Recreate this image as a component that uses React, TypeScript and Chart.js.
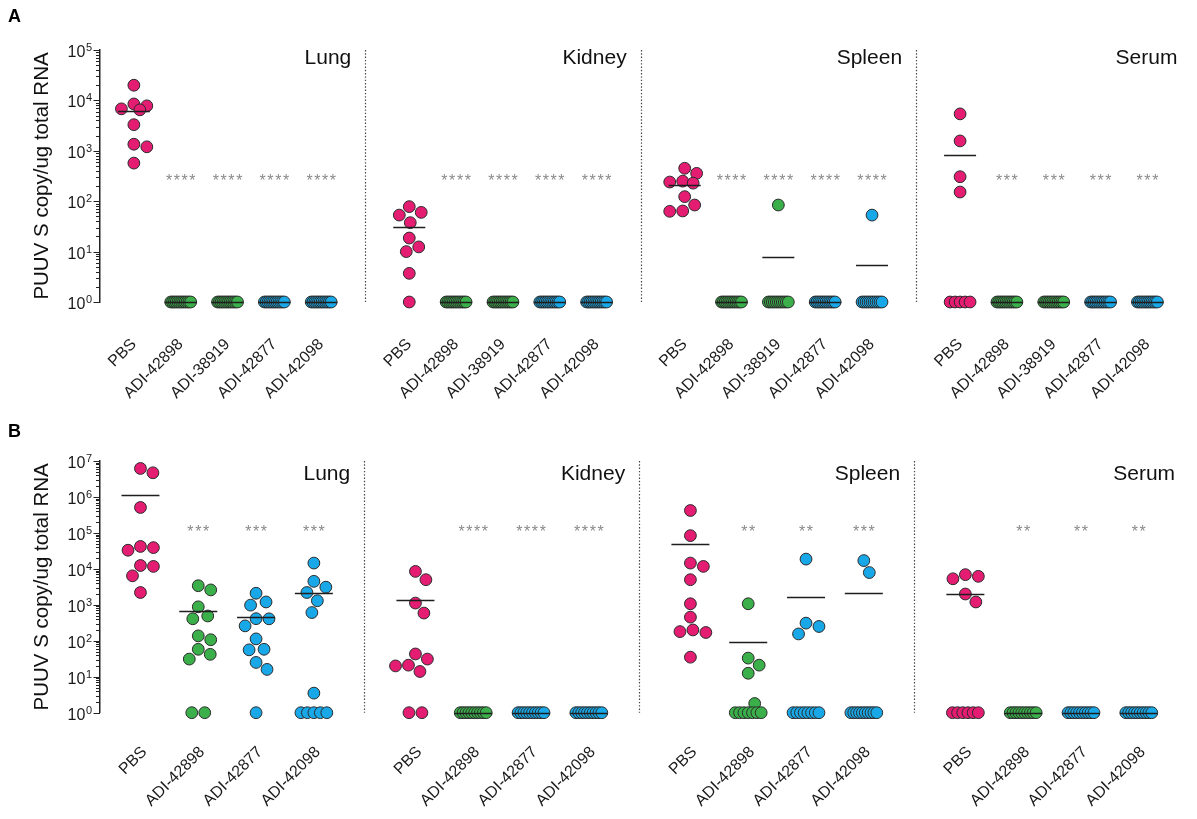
import React, { useEffect, useRef } from "react";
import { Chart, registerables } from "chart.js";
Chart.register(...registerables);

const FONT = "'Liberation Sans', Arial, Helvetica, sans-serif";

// ---------- data ----------
const ORGANS = ["Lung", "Kidney", "Spleen", "Serum"];
const GROUPS_A = ["PBS", "ADI-42898", "ADI-38919", "ADI-42877", "ADI-42098"];
const GROUPS_B = ["PBS", "ADI-42898", "ADI-42877", "ADI-42098"];

const A_LUNG = [
  [20000, 8500, 7800, 6800, 6500, 3300, 1350, 1200, 570],
  [1, 1, 1, 1, 1, 1, 1, 1, 1, 1, 1, 1],
  [1, 1, 1, 1, 1, 1, 1, 1, 1, 1, 1, 1],
  [1, 1, 1, 1, 1, 1, 1, 1, 1, 1, 1, 1],
  [1, 1, 1, 1, 1, 1, 1, 1, 1, 1, 1, 1],
];
const A_KIDNEY = [
  [78, 60, 53, 37.5, 18.6, 12.4, 10, 3.7, 1],
  [1, 1, 1, 1, 1, 1, 1, 1, 1, 1, 1, 1],
  [1, 1, 1, 1, 1, 1, 1, 1, 1, 1, 1, 1],
  [1, 1, 1, 1, 1, 1, 1, 1, 1, 1, 1, 1],
  [1, 1, 1, 1, 1, 1, 1, 1, 1, 1, 1, 1],
];
const A_SPLEEN = [
  [450, 357, 250, 240, 228, 123, 84, 64, 63],
  [1, 1, 1, 1, 1, 1, 1, 1, 1, 1, 1, 1],
  [84, 1, 1, 1, 1, 1, 1, 1, 1, 1, 1, 1],
  [1, 1, 1, 1, 1, 1, 1, 1, 1, 1, 1, 1],
  [53, 1, 1, 1, 1, 1, 1, 1, 1, 1, 1, 1],
];
const A_SERUM = [
  [5400, 1570, 306, 152, 1, 1, 1, 1, 1],
  [1, 1, 1, 1, 1, 1, 1, 1, 1, 1, 1, 1],
  [1, 1, 1, 1, 1, 1, 1, 1, 1, 1, 1, 1],
  [1, 1, 1, 1, 1, 1, 1, 1, 1, 1, 1, 1],
  [1, 1, 1, 1, 1, 1, 1, 1, 1, 1, 1, 1],
];
const STARS_A = [
  ["****", "****", "****", "****"],
  ["****", "****", "****", "****"],
  ["****", "****", "****", "****"],
  ["***", "***", "***", "***"],
];

const B_LUNG = [
  [6200000, 4700000, 510000, 42000, 39000, 33000, 12400, 11700, 6400, 2200],
  [3400, 2600, 880, 490, 410, 137, 107, 58, 42, 31, 1, 1],
  [2100, 1200, 980, 412, 408, 260, 113, 58, 56, 25, 16, 1],
  [14500, 4500, 3100, 2200, 1300, 610, 3.5, 1, 1, 1, 1, 1],
];
const B_KIDNEY = [
  [8500, 5000, 1120, 590, 43, 31, 21, 20, 14, 1, 1],
  [1, 1, 1, 1, 1, 1, 1, 1, 1, 1],
  [1, 1, 1, 1, 1, 1, 1, 1, 1, 1],
  [1, 1, 1, 1, 1, 1, 1, 1, 1, 1],
];
const B_SPLEEN = [
  [420000, 84000, 14500, 11700, 5000, 1070, 455, 200, 180, 170, 35],
  [1070, 33, 21, 12.5, 1.8, 1, 1, 1, 1, 1, 1, 1],
  [18700, 310, 250, 155, 1, 1, 1, 1, 1, 1, 1, 1],
  [17000, 7900, 1, 1, 1, 1, 1, 1, 1, 1, 1, 1],
];
const B_SERUM = [
  [6900, 6200, 5300, 2000, 1200, 1, 1, 1, 1, 1, 1],
  [1, 1, 1, 1, 1, 1, 1, 1, 1, 1],
  [1, 1, 1, 1, 1, 1, 1, 1, 1, 1],
  [1, 1, 1, 1, 1, 1, 1, 1, 1, 1],
];
const STARS_B = [
  ["***", "***", "***"],
  ["****", "****", "****"],
  ["**", "**", "***"],
  ["**", "**", "**"],
];

const Y_TITLE = "PUUV S copy/ug total RNA";

// ---------- styles ----------
const COLORS: Record<string, string> = {
  "PBS": "#E41C72",
  "ADI-42898": "#3BAF4A",
  "ADI-38919": "#3BAF4A",
  "ADI-42877": "#18A8E8",
  "ADI-42098": "#18A8E8",
};
const DIAM = 13;

function swarm(vals: number[], pxd: number, pill: number): number[] {
  const n = vals.length;
  const ys = vals.map((v) => -Math.log10(v) * pxd);
  const off: number[] = new Array(n).fill(NaN);
  const placed: number[] = [];
  const groups = new Map<number, number[]>();
  vals.forEach((v, i) => {
    const a = groups.get(v) || [];
    a.push(i);
    groups.set(v, a);
  });
  groups.forEach((idx) => {
    if (idx.length < 2) return;
    const k = idx.length;
    const step = Math.min(DIAM, pill / (k - 1));
    idx.forEach((i, j) => {
      off[i] = (j - (k - 1) / 2) * step;
      placed.push(i);
    });
  });
  const order = vals
    .map((_, i) => i)
    .filter((i) => isNaN(off[i]))
    .sort((a, b) => vals[b] - vals[a]);
  for (const i of order) {
    let best = 0;
    let bestScore = -1;
    let found = false;
    for (let s = 0; s <= 20 && !found; s += 0.5) {
      const cands = s === 0 ? [0] : [s, -s];
      for (const dx of cands) {
        let md = Infinity;
        for (const j of placed) md = Math.min(md, Math.hypot(dx - off[j], ys[i] - ys[j]));
        if (md >= DIAM) {
          best = dx;
          found = true;
          break;
        }
        if (md > bestScore && Math.abs(dx) <= pill / 2) {
          bestScore = md;
          best = dx;
        }
      }
    }
    off[i] = best;
    placed.push(i);
  }
  return off;
}

type RowSpec = {
  letter: string;
  panels: number[][][];
  groups: string[];
  stars: string[][];
  yMaxExp: number;
  step: number;
  div: number;
  xmin: number;
  xmax: number;
  pxu: number;
  pxd: number;
  top: number;
  xAxisH: number;
  height: number;
  meanW: number;
  pill: number;
  starY: number;
  titleDy: number;
  letterY: number;
  labelPad: number;
  labelOffset: number;
};

const ROW_A: RowSpec = {
  letter: "A",
  panels: [A_LUNG, A_KIDNEY, A_SPLEEN, A_SERUM],
  groups: GROUPS_A,
  stars: STARS_A,
  yMaxExp: 5,
  step: 5.88,
  div: 4.94,
  xmin: -0.723,
  xmax: 22.38,
  pxu: 47,
  pxd: 50.4,
  top: 42,
  xAxisH: 106,
  height: 400,
  meanW: 32,
  pill: 20,
  starY: 306,
  titleDy: 14,
  letterY: 14,
  labelPad: 33,
  labelOffset: 0,
};
const ROW_B: RowSpec = {
  letter: "B",
  panels: [B_LUNG, B_KIDNEY, B_SPLEEN, B_SERUM],
  groups: GROUPS_B,
  stars: STARS_B,
  yMaxExp: 7,
  step: 4.757,
  div: 3.87,
  xmin: -0.7,
  xmax: 18.02,
  pxu: 58,
  pxd: 35.96,
  top: 53,
  xAxisH: 98.3,
  height: 403,
  meanW: 38,
  pill: 26,
  starY: 133000,
  titleDy: 19,
  letterY: 29,
  labelPad: 30,
  labelOffset: 4,
};

function buildConfig(spec: RowSpec): any {
  const datasets: any[] = [];
  const tickPos: number[] = [];
  const tickLabels: string[] = [];
  const means: { x: number; y: number }[] = [];
  spec.panels.forEach((panel, p) => {
    panel.forEach((vals, g) => {
      const cx = p * spec.step + g;
      tickPos.push(cx);
      tickLabels.push(spec.groups[g]);
      const offs = swarm(vals, spec.pxd, spec.pill);
      const color = COLORS[spec.groups[g]];
      means.push({ x: cx, y: vals.reduce((a, b) => a + b, 0) / vals.length });
      datasets.push({
        type: "scatter",
        data: vals.map((v, i) => ({ x: cx + offs[i] / spec.pxu, y: v })),
        backgroundColor: color,
        borderColor: "#2b2b2b",
        borderWidth: 1,
        pointRadius: 5.9,
        pointHoverRadius: 5.9,
        clip: false,
      });
    });
  });

  const overlay = {
    id: "overlay" + spec.letter,
    afterDatasetsDraw(chart: any) {
      const { ctx, chartArea } = chart;
      const xs = chart.scales.x;
      const ys = chart.scales.y;
      ctx.save();
      // mean lines
      ctx.strokeStyle = "#1e1e1e";
      ctx.lineWidth = 1.6;
      means.forEach((m) => {
        const px = xs.getPixelForValue(m.x);
        const py = Math.round(ys.getPixelForValue(m.y)) + 0.5;
        ctx.beginPath();
        ctx.moveTo(px - spec.meanW / 2, py);
        ctx.lineTo(px + spec.meanW / 2, py);
        ctx.stroke();
      });
      // stars
      ctx.fillStyle = "#8a8a8a";
      ctx.font = `16px ${FONT}`;
      ctx.textAlign = "center";
      ctx.textBaseline = "alphabetic";
      spec.stars.forEach((row, p) => {
        row.forEach((s, k) => {
          const cx = xs.getPixelForValue(p * spec.step + k + 1);
          const cy = ys.getPixelForValue(spec.starY) + 9;
          const n = s.length;
          for (let i = 0; i < n; i++) {
            ctx.fillText("*", cx + (i - (n - 1) / 2) * 7.8, cy);
          }
        });
      });
      // dividers
      ctx.strokeStyle = "#444";
      ctx.lineWidth = 1.2;
      ctx.setLineDash([1.4, 1.9]);
      for (let p = 0; p < spec.panels.length - 1; p++) {
        const px = Math.round(xs.getPixelForValue(p * spec.step + spec.div)) + 0.5;
        ctx.beginPath();
        ctx.moveTo(px, chartArea.top);
        ctx.lineTo(px, chartArea.bottom);
        ctx.stroke();
      }
      ctx.setLineDash([]);
      // panel titles
      ctx.fillStyle = "#111";
      ctx.font = `21px ${FONT}`;
      ctx.textAlign = "right";
      ORGANS.forEach((name, p) => {
        const px = xs.getPixelForValue(p * spec.step + spec.div) - 14;
        ctx.fillText(name, px, chartArea.top + spec.titleDy);
      });
      // y ticks & labels
      const x0 = chartArea.left;
      ctx.strokeStyle = "#222";
      ctx.lineWidth = 1;
      for (let k = 0; k <= spec.yMaxExp; k++) {
        const py = Math.round(ys.getPixelForValue(Math.pow(10, k))) + 0.5;
        ctx.beginPath();
        ctx.moveTo(x0 - 6.5, py);
        ctx.lineTo(x0, py);
        ctx.stroke();
        if (k < spec.yMaxExp) {
          for (let m = 2; m <= 9; m++) {
            const pm = Math.round(ys.getPixelForValue(m * Math.pow(10, k))) + 0.5;
            ctx.beginPath();
            ctx.moveTo(x0 - 4, pm);
            ctx.lineTo(x0, pm);
            ctx.stroke();
          }
        }
        ctx.fillStyle = "#1a1a1a";
        ctx.textAlign = "right";
        ctx.font = `11px ${FONT}`;
        const ex = String(k);
        const ew = ctx.measureText(ex).width;
        const right = x0 - 8;
        ctx.fillText(ex, right, py + 0.5);
        ctx.font = `16px ${FONT}`;
        ctx.fillText("10", right - ew - 0.5, py + 6.5);
      }
      // letter
      ctx.fillStyle = "#000";
      ctx.textAlign = "left";
      ctx.font = `bold 18px ${FONT}`;
      ctx.fillText(spec.letter, 0, spec.letterY);
      ctx.restore();
    },
  };

  return {
    type: "scatter",
    data: { datasets },
    options: {
      responsive: false,
      animation: false,
      events: [],
      layout: { padding: { left: 0, right: 3, top: spec.top, bottom: 0 } },
      plugins: { legend: { display: false }, tooltip: { enabled: false }, title: { display: false } },
      scales: {
        x: {
          type: "linear",
          min: spec.xmin,
          max: spec.xmax,
          border: { display: false },
          grid: { display: false, drawTicks: false },
          afterBuildTicks: (s: any) => {
            s.ticks = tickPos.map((v) => ({ value: v }));
          },
          afterFit: (s: any) => {
            s.height = spec.xAxisH;
            s.paddingLeft = 0;
            s.paddingRight = 0;
          },
          ticks: {
            autoSkip: false,
            minRotation: 45,
            maxRotation: 45,
            padding: spec.labelPad,
            labelOffset: spec.labelOffset,
            color: "#1a1a1a",
            font: { family: FONT, size: 16 },
            callback: (_v: any, i: number) => tickLabels[i],
          },
        },
        y: {
          type: "logarithmic",
          min: 1,
          max: Math.pow(10, spec.yMaxExp),
          border: { display: true, color: "#222", width: 1.5 },
          grid: { display: false },
          ticks: { display: false },
          afterFit: (s: any) => {
            s.width = 92;
            s.paddingTop = 0;
            s.paddingBottom = 0;
          },
          title: {
            display: true,
            text: Y_TITLE,
            color: "#111",
            font: { family: FONT, size: 20.5 },
            padding: { top: 22, bottom: 0 },
          },
        },
      },
    },
    plugins: [overlay],
  };
}

function Row({ spec }: { spec: RowSpec }) {
  const ref = useRef<HTMLCanvasElement>(null);
  useEffect(() => {
    const chart = new Chart(ref.current as HTMLCanvasElement, buildConfig(spec));
    return () => chart.destroy();
  }, [spec]);
  return (
    <canvas
      ref={ref}
      width={1181}
      height={spec.height}
      style={{ display: "block", width: 1181, height: spec.height }}
    />
  );
}

export default function App() {
  return (
    <div style={{ width: 1181, height: 803, overflow: "hidden", background: "#fff" }}>
      <Row spec={ROW_A} />
      <Row spec={ROW_B} />
    </div>
  );
}
